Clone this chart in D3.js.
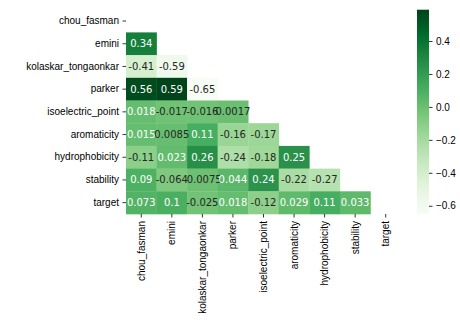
<!DOCTYPE html>
<html>
<head>
<meta charset="utf-8">
<script src="https://cdn.jsdelivr.net/npm/d3@7"></script>
<style>
  html, body { margin: 0; padding: 0; background: #fff; }
  svg { display: block; font-family: "DejaVu Sans", sans-serif; }
</style>
</head>
<body>
<svg id="chart" width="460" height="320"></svg>
<script>
// Feature names (rows and columns of the correlation matrix)
const features = ["chou_fasman", "emini", "kolaskar_tongaonkar", "parker",
  "isoelectric_point", "aromaticity", "hydrophobicity", "stability", "target"];

// Lower-triangle correlations, one array per row (columns left of the diagonal)
const rowChouFasman = [];
const rowEmini = [0.34];
const rowKolaskar = [-0.41, -0.59];
const rowParker = [0.56, 0.59, -0.65];
const rowIsoelectric = [0.018, -0.017, -0.016, 0.0017];
const rowAromaticity = [0.015, 0.0085, 0.11, -0.16, -0.17];
const rowHydrophobicity = [-0.11, 0.023, 0.26, -0.24, -0.18, 0.25];
const rowStability = [0.09, -0.064, -0.0075, 0.044, 0.24, -0.22, -0.27];
const rowTarget = [0.073, 0.1, -0.025, 0.018, -0.12, 0.029, 0.11, 0.033];

const colorbarTicks = [-0.6, -0.4, -0.2, 0.0, 0.2, 0.4];

const rows = [rowChouFasman, rowEmini, rowKolaskar, rowParker, rowIsoelectric,
  rowAromaticity, rowHydrophobicity, rowStability, rowTarget];

const cells = [];
rows.forEach((vals, i) => vals.forEach((v, j) =>
  cells.push({ row: features[i], col: features[j], value: v })));

const vmin = d3.min(cells, d => d.value);
const vmax = d3.max(cells, d => d.value);

// Greens colormap: ColorBrewer stops, linear segments, 256-entry lookup table
const greens = ["#f7fcf5", "#e5f5e0", "#c7e9c0", "#a1d99b", "#74c476",
  "#41ab5d", "#238b45", "#006d2c", "#00441b"];
const stops = greens.map(c => { const r = d3.rgb(c); return [r.r / 255, r.g / 255, r.b / 255]; });
function greensFloat(t) {
  const seg = (stops.length - 1) * t;
  const i = Math.min(stops.length - 2, Math.floor(seg));
  const f = seg - i;
  return stops[i].map((c, k) => c + (stops[i + 1][k] - c) * f);
}
const N = 256;
const lut = d3.range(N).map(i => greensFloat(i / (N - 1)));
const norm = d3.scaleLinear().domain([vmin, vmax]).range([0, 1]);
function lookup(v) {
  const idx = Math.max(0, Math.min(N - 1, Math.floor(norm(v) * N)));
  return lut[idx];
}
const toCss = c => d3.rgb(c[0] * 255, c[1] * 255, c[2] * 255).formatHex();

// Relative luminance decides annotation colour
function luminance(c) {
  const lin = c.map(v => v <= 0.03928 ? v / 12.92 : Math.pow((v + 0.055) / 1.055, 2.4));
  return 0.2126 * lin[0] + 0.7152 * lin[1] + 0.0722 * lin[2];
}

const fmt = v => d3.format(".2")(v).replace("−", "-");

const svg = d3.select("#chart");
const mLeft = 126, mRight = 401, mTop = 9.7, mBottom = 214;

const x = d3.scaleBand().domain(features).range([mLeft, mRight]);
const y = d3.scaleBand().domain(features).range([mTop, mBottom]);

// Heatmap cells
svg.append("g").selectAll("rect")
  .data(cells)
  .join("rect")
  .attr("x", d => x(d.col))
  .attr("y", d => y(d.row))
  .attr("width", x.bandwidth() + 0.3)
  .attr("height", y.bandwidth() + 0.3)
  .attr("fill", d => toCss(lookup(d.value)));

// Annotations
svg.append("g").selectAll("text")
  .data(cells)
  .join("text")
  .attr("x", d => x(d.col) + x.bandwidth() / 2)
  .attr("y", d => y(d.row) + y.bandwidth() / 2)
  .attr("text-anchor", "middle")
  .attr("dominant-baseline", "central")
  .attr("font-size", 10)
  .attr("fill", d => luminance(lookup(d.value)) > 0.408 ? "#262626" : "#ffffff")
  .text(d => fmt(d.value));

// Axes
const yAxis = svg.append("g")
  .attr("transform", `translate(${mLeft},0)`)
  .call(d3.axisLeft(y).tickSize(3.5).tickPadding(3.5));
yAxis.select(".domain").remove();
yAxis.selectAll("text").attr("font-size", 10).attr("fill", "#000");
yAxis.selectAll("line").attr("stroke", "#000").attr("stroke-width", 0.8);

const xAxis = svg.append("g")
  .attr("transform", `translate(0,${mBottom})`)
  .call(d3.axisBottom(x).tickSize(3.5).tickPadding(3.5));
xAxis.select(".domain").remove();
xAxis.selectAll("line").attr("stroke", "#000").attr("stroke-width", 0.8);
xAxis.selectAll("text")
  .attr("font-size", 10)
  .attr("fill", "#000")
  .attr("transform", "rotate(-90)")
  .attr("x", -7)
  .attr("y", 0)
  .attr("dy", "0.35em")
  .attr("text-anchor", "end");

// Colorbar
const cbX = 417, cbW = 12;
const defs = svg.append("defs");
const grad = defs.append("linearGradient")
  .attr("id", "cbgrad")
  .attr("x1", 0).attr("y1", 1).attr("x2", 0).attr("y2", 0);
greens.forEach((c, i) => grad.append("stop")
  .attr("offset", i / (greens.length - 1))
  .attr("stop-color", c));
svg.append("rect")
  .attr("x", cbX).attr("y", mTop)
  .attr("width", cbW).attr("height", mBottom - mTop)
  .attr("fill", "url(#cbgrad)");

const cbScale = d3.scaleLinear().domain([vmin, vmax]).range([mBottom, mTop]);
const cbAxis = svg.append("g")
  .attr("transform", `translate(${cbX + cbW},0)`)
  .call(d3.axisRight(cbScale).tickValues(colorbarTicks)
    .tickSize(3.5).tickPadding(3.5)
    .tickFormat(d => d3.format(".1f")(d).replace("-", "−")));
cbAxis.select(".domain").remove();
cbAxis.selectAll("line").attr("stroke", "#000").attr("stroke-width", 0.8);
cbAxis.selectAll("text").attr("font-size", 10).attr("fill", "#000");
</script>
</body>
</html>
